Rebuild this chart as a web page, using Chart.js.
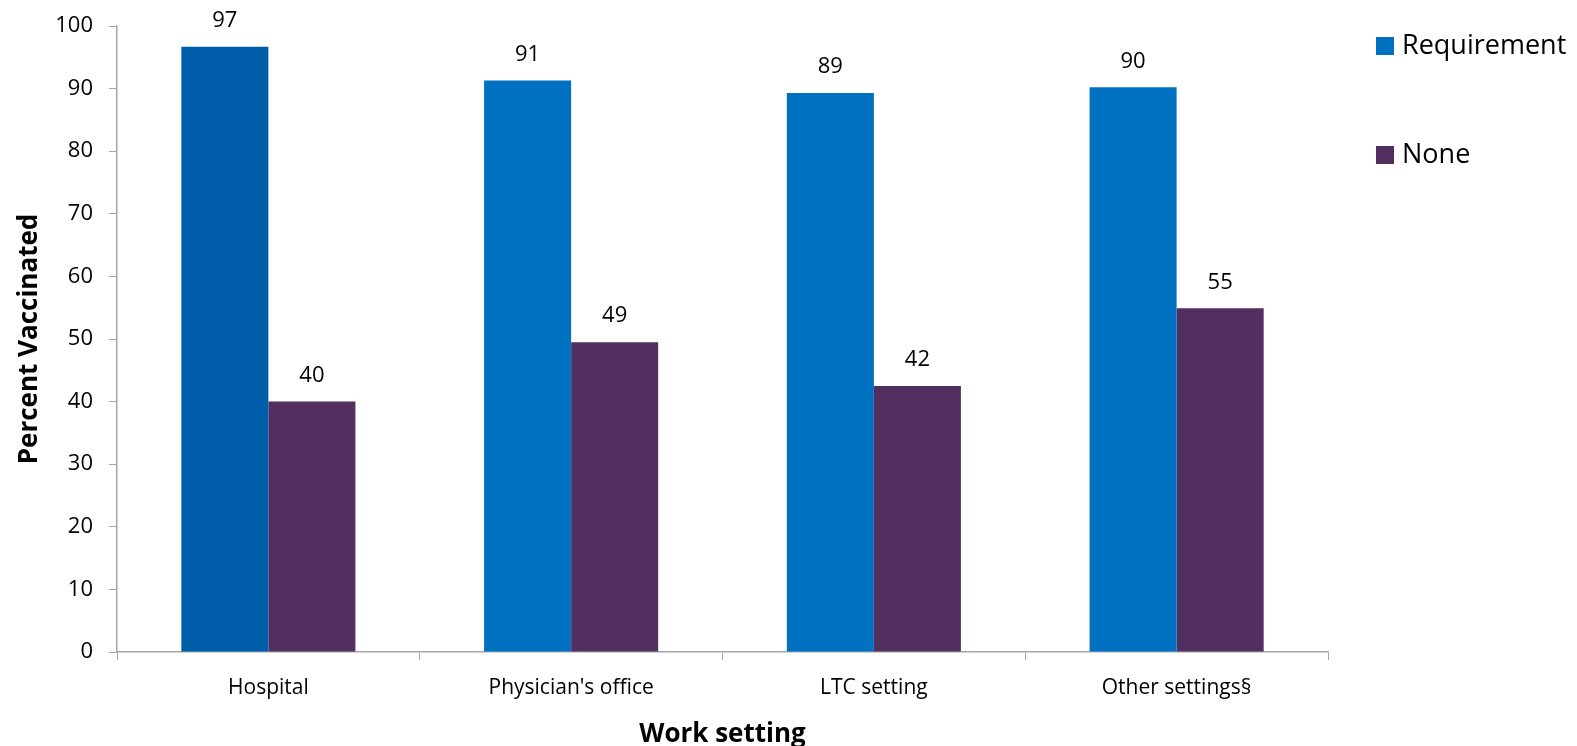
<!DOCTYPE html>
<html>
<head>
<meta charset="utf-8">
<script src="https://cdn.jsdelivr.net/npm/chart.js@4.4.0/dist/chart.umd.min.js"></script>
<style>
  body { margin: 0; background: #fff; }
  #wrap { width: 1577px; height: 746px; }
</style>
</head>
<body>
<div id="wrap"><canvas id="myChart" width="1577" height="746"></canvas></div>
<script>
var settings = ["Hospital", "Physician's office", "LTC setting", "Other settings\u00a7"];
var requirement = [96.7, 91.3, 89.3, 90.2];
var none = [40.0, 49.5, 42.5, 54.9];
var requirementLabels = ["97", "91", "89", "90"];
var noneLabels = ["40", "49", "42", "55"];

var blue = '#0070C0';
var blueDark = '#005DA9';
var purple = '#532E60';
var font = "'Open Sans', sans-serif";

// first bar in Hospital is a darker blue in the original
var reqColors = [blueDark, blue, blue, blue];

// value labels above bars
var valueLabels = {
    id: 'valueLabels',
    afterDatasetsDraw: function (chart) {
        var ctx = chart.ctx;
        ctx.save();
        ctx.font = '22px ' + font;
        ctx.fillStyle = '#000';
        ctx.textAlign = 'center';
        ctx.textBaseline = 'middle';
        var texts = [requirementLabels, noneLabels];
        chart.data.datasets.forEach(function (ds, di) {
            chart.getDatasetMeta(di).data.forEach(function (bar, i) {
                ctx.fillText(texts[di][i], bar.x, bar.y - 26);
            });
        });
        ctx.restore();
    }
};

// legend on the right
var sideLegend = {
    id: 'sideLegend',
    afterDraw: function (chart) {
        var ctx = chart.ctx;
        var x = chart.chartArea.right + 48;
        var rows = [46, 155];
        var colors = [blue, purple];
        ctx.save();
        ctx.font = '27px ' + font;
        ctx.textBaseline = 'middle';
        chart.data.datasets.forEach(function (ds, i) {
            ctx.fillStyle = colors[i];
            ctx.fillRect(x, rows[i] - 9, 18, 18);
            ctx.fillStyle = '#000';
            ctx.fillText(ds.label, x + 26, rows[i]);
        });
        ctx.restore();
    }
};

var ctx = document.getElementById('myChart').getContext('2d');
var myChart = new Chart(ctx, {
    type: 'bar',
    data: {
        labels: settings,
        datasets: [{
            label: 'Requirement',
            data: requirement,
            backgroundColor: reqColors,
            borderWidth: 0
        }, {
            label: 'None',
            data: none,
            backgroundColor: purple,
            borderWidth: 0
        }]
    },
    options: {
        responsive: false,
        animation: false,
        devicePixelRatio: 1,
        categoryPercentage: 0.575,
        barPercentage: 1,
        layout: { padding: { left: 0, top: 26, right: 249, bottom: 0 } },
        plugins: {
            legend: { display: false },
            tooltip: { enabled: false }
        },
        scales: {
            x: {
                afterFit: function (s) { s.height = 94; },
                grid: { drawOnChartArea: false, color: '#A6A6A6', tickLength: 8 },
                border: { color: '#A6A6A6', width: 1.5 },
                ticks: { color: '#000', font: { family: font, size: 21 }, padding: 15 },
                title: {
                    display: true,
                    text: 'Work setting',
                    color: '#000',
                    font: { family: font, size: 26, weight: 'bold' },
                    padding: { top: 0, bottom: -4 }
                }
            },
            y: {
                min: 0,
                max: 100,
                afterFit: function (s) { s.width = 117; s.paddingTop = 0; s.paddingBottom = 0; },
                grid: { drawOnChartArea: false, color: '#A6A6A6', tickLength: 8 },
                border: { color: '#A6A6A6', width: 1.5 },
                ticks: { stepSize: 10, color: '#000', font: { family: font, size: 22 }, padding: 16 },
                title: {
                    display: true,
                    text: 'Percent Vaccinated',
                    color: '#000',
                    font: { family: font, size: 26, weight: 'bold' },
                    padding: { top: 14, bottom: 0 }
                }
            }
        }
    },
    plugins: [valueLabels, sideLegend]
});
</script>
</body>
</html>
